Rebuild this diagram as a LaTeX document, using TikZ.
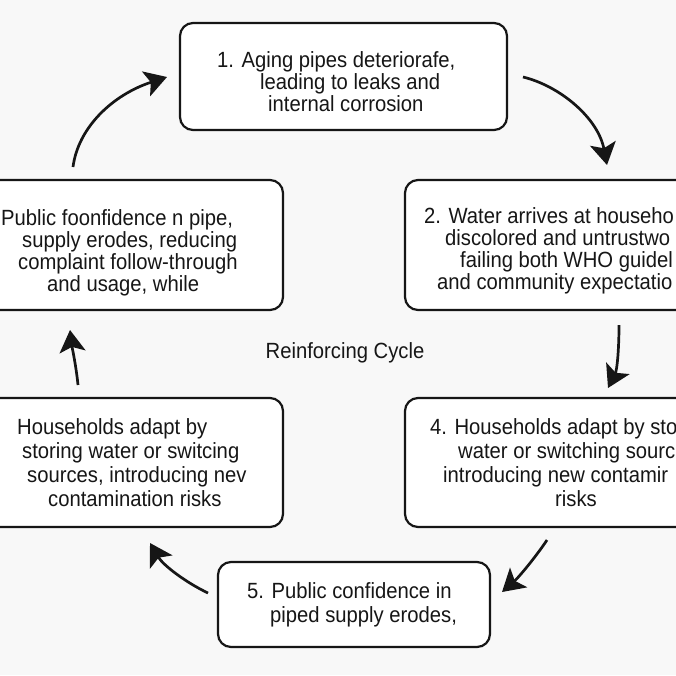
\documentclass[tikz,border=0pt]{standalone}
\usepackage{fontspec}
\setmainfont{Liberation Sans}[FakeStretch=0.92]
\usetikzlibrary{arrows.meta}
\definecolor{bg}{RGB}{248,248,248}
\definecolor{ink}{RGB}{22,22,22}
\begin{document}
\begin{tikzpicture}[x=1pt,y=-1pt,
  box/.style={draw=ink, line width=2.2pt, rounded corners=13pt, fill=white, inner sep=0pt},
  txt/.style={font=\fontsize{22}{24}\selectfont, inner sep=0pt, anchor=base west, text=ink},
  arr/.style={draw=ink, line width=2.7pt, -{Stealth[length=22pt,width=26pt,inset=5pt]}}]
\useasboundingbox (0,0) rectangle (676,675);
\clip (0,0) rectangle (676,675);
\fill[bg] (0,0) rectangle (676,675);

% boxes
\node[box, minimum width=327pt, minimum height=107pt] (b1) at (343.5,76.5) {};
\node[box, minimum width=295pt, minimum height=130pt] (b2) at (552.5,245) {};
\node[box, minimum width=313pt, minimum height=130pt] (b6) at (126.5,245) {};
\node[box, minimum width=313pt, minimum height=129pt] (b3) at (126.5,462.5) {};
\node[box, minimum width=295pt, minimum height=129pt] (b4) at (552.5,462.5) {};
\node[box, minimum width=272pt, minimum height=85pt] (b5) at (354,604.5) {};

% box 1 text
\node[txt] (t1a) at (217,67) {1. Aging pipes deteriorafe,};
\node[txt] (t1b) at (260,89) {leading to leaks and};
\node[txt] (t1c) at (268,111) {internal corrosion};

% box 2 text
\node[txt] (t2a) at (424,223) {2. Water arrives at househo};
\node[txt] (t2b) at (445,245) {discolored and untrustwo};
\node[txt] (t2c) at (460,267) {failing both WHO guidel};
\node[txt] (t2d) at (437,289) {and community expectatio};

% left middle box text
\node[txt] (t6a) at (1,225) {Public foonfidence n pipe,};
\node[txt] (t6b) at (22,247) {supply erodes, reducing};
\node[txt] (t6c) at (18,269) {complaint follow-through};
\node[txt] (t6d) at (47,291) {and usage, while};

% left bottom box text
\node[txt] (t3a) at (17,434) {Households adapt by};
\node[txt] (t3b) at (22,458) {storing water or switcing};
\node[txt] (t3c) at (27,482) {sources, introducing nev};
\node[txt] (t3d) at (48,506) {contamination risks};

% box 4 text
\node[txt] (t4a) at (430,434) {4. Households adapt by sto};
\node[txt] (t4b) at (458,458) {water or switching sourc};
\node[txt] (t4c) at (443,482) {introducing new contamir};
\node[txt] (t4d) at (555,506) {risks};

% box 5 text
\node[txt] (t5a) at (247,598) {5. Public confidence in};
\node[txt] (t5b) at (270,622) {piped supply erodes,};

% centre label
\node[txt, anchor=base] (lbl) at (345,358) {Reinforcing Cycle};

% arrows
\coordinate (a1s) at (73,167);  \coordinate (a1e) at (167,77);
\coordinate (a2s) at (523,77);  \coordinate (a2e) at (607,165);
\coordinate (a3s) at (619,325); \coordinate (a3e) at (608,388);
\coordinate (a4s) at (547,540); \coordinate (a4e) at (502,592);
\coordinate (a5s) at (208,593); \coordinate (a5e) at (150,543);
\coordinate (a6s) at (78,385);  \coordinate (a6e) at (70,330);

\draw[arr] (a1s) .. controls (78,128) and (112,95) .. (a1e);
\draw[arr] (a2s) .. controls (560,86) and (598,118) .. (a2e);
\draw[arr] (a3s) .. controls (619,350) and (617,370) .. (a3e);
\draw[arr] (a4s) .. controls (535,558) and (518,578) .. (a4e);
\draw[arr] (a5s) .. controls (185,582) and (163,565) .. (a5e);
\draw[arr] (a6s) .. controls (76,365) and (72,347) .. (a6e);
\end{tikzpicture}
\end{document}
